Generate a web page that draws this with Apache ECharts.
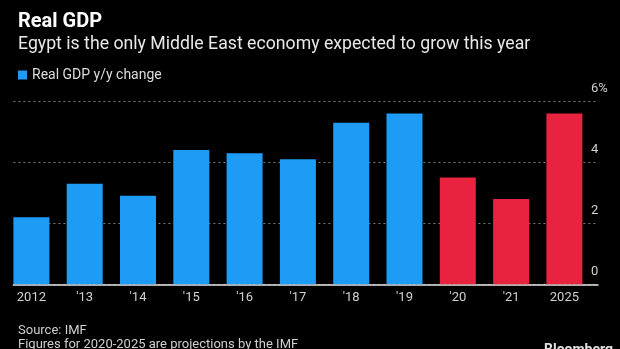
<!DOCTYPE html>
<html>
<head>
<meta charset="utf-8">
<script src="https://cdn.jsdelivr.net/npm/echarts@6/dist/echarts.min.js"></script>
<style>
html,body{margin:0;padding:0;background:#000;}
#chart{width:620px;height:349px;}
</style>
</head>
<body>
<div id="chart"></div>
<script>
var categories = ['2012', "'13", "'14", "'15", "'16", "'17", "'18", "'19", "'20", "'21", '2025'];
var gdpValues = [2.2, 3.3, 2.9, 4.4, 4.3, 4.1, 5.3, 5.6, 3.5, 2.8, 5.6];
var isProjection = [false, false, false, false, false, false, false, false, true, true, true];
var yTicks = [0, 2, 4, 6];

var BLUE = '#1e9cf5';
var RED = '#e9223f';
var FONT = 'Roboto';

var chart = echarts.init(document.getElementById('chart'), null, {renderer: 'canvas'});

var barData = gdpValues.map(function (v, i) {
  return isProjection[i] ? {value: v, itemStyle: {color: RED}} : v;
});

var option = {
  backgroundColor: '#000',
  animation: false,
  textStyle: {fontFamily: FONT},
  title: [
    {text: 'Real GDP', left: 13, top: 7,
     textStyle: {color: '#fff', fontSize: 20, fontWeight: 'bold', fontFamily: FONT}},
    {text: 'Egypt is the only Middle East economy expected to grow this year', left: 13, top: 31,
     textStyle: {color: '#e8e8e8', fontSize: 17.7, fontWeight: 'normal', fontFamily: FONT}},
    {text: 'Source: IMF', left: 13, top: 319,
     textStyle: {color: '#cfcfcf', fontSize: 13, fontWeight: 'normal', fontFamily: FONT}},
    {text: 'Figures for 2020-2025 are projections by the IMF', left: 13, top: 333,
     textStyle: {color: '#cfcfcf', fontSize: 13, fontWeight: 'normal', fontFamily: FONT}},
    {text: 'Bloomberg', left: 539, top: 338,
     textStyle: {color: '#e0e0e0', fontSize: 14, fontWeight: 'bold', fontFamily: FONT}}
  ],
  legend: {
    left: 13, top: 63,
    icon: 'rect', itemWidth: 9, itemHeight: 9, itemGap: 10,
    textStyle: {color: '#dcdcdc', fontSize: 14, fontFamily: FONT},
    data: ['Real GDP y/y change']
  },
  grid: [
    {left: 4.75, right: 28.95, top: 101.3, bottom: 64.7},
    {left: 13.4, right: 22, top: 101.3, bottom: 64.7}
  ],
  xAxis: [
    {type: 'category', gridIndex: 0, data: categories,
     axisLine: {show: false}, axisTick: {show: false},
     axisLabel: {color: '#d0d0d0', fontSize: 13, margin: 7, fontFamily: FONT}},
    {type: 'value', gridIndex: 1, min: 0, max: 1, show: true,
     axisLine: {show: true, onZero: false, lineStyle: {color: '#e6e6e6', width: 1.5}},
     axisTick: {show: false}, axisLabel: {show: false}, splitLine: {show: false}}
  ],
  yAxis: [
    {type: 'value', gridIndex: 0, min: 0, max: 6, interval: 2, show: false},
    {type: 'value', gridIndex: 1, min: yTicks[0], max: yTicks[yTicks.length - 1], interval: 2,
     position: 'right',
     axisLine: {show: false}, axisTick: {show: false},
     splitLine: {show: true, lineStyle: {color: '#7a7a7a', type: [2, 3], width: 1}},
     axisLabel: {inside: true, align: 'left', margin: 7, verticalAlign: 'bottom',
       padding: [0, 0, 6, 0], color: '#d0d0d0', fontSize: 13, fontFamily: FONT,
       formatter: function (v) { return v === 6 ? v + '%' : String(v); }}}
  ],
  series: [
    {name: 'Real GDP y/y change', type: 'bar', xAxisIndex: 0, yAxisIndex: 0,
     barWidth: 36, itemStyle: {color: BLUE}, data: barData}
  ]
};
chart.setOption(option);
</script>
</body>
</html>
